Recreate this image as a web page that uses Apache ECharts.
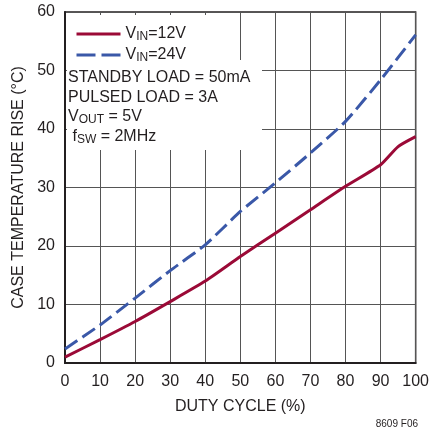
<!DOCTYPE html>
<html>
<head>
<meta charset="utf-8">
<script src="https://cdn.jsdelivr.net/npm/echarts@6/dist/echarts.min.js"></script>
<style>
  html, body { margin: 0; padding: 0; background: #fff; }
  #chart { width: 432px; height: 437px; }
</style>
</head>
<body>
<div id="chart"></div>
<script>
// duty cycle (%) on x, case temperature rise (°C) on y
var duty12 = [0, 10, 20, 30, 40, 50, 60, 70, 80, 90, 95, 100]
var rise12 = [1.0, 4.0, 7.1, 10.5, 14.0, 18.2, 22.2, 26.2, 30.2, 33.9, 37.0, 38.7]
var duty24 = [0, 10, 20, 30, 40, 50, 60, 70, 80, 90, 100]
var rise24 = [2.4, 6.5, 11.1, 15.8, 20.2, 25.9, 30.8, 35.9, 41.3, 48.4, 56.1]
var seriesNames = ['VIN=12V', 'VIN=24V']
var noteLines = [
  '{t|STANDBY LOAD = 50mA}',
  '{t|PULSED LOAD = 3A}',
  '{t|V}{s|OUT}{t| = 5V}',
  '{t| f}{s|SW}{t| = 2MHz}'
]

var font = "'Liberation Sans Narrow', 'Arial Narrow', 'Liberation Sans', sans-serif"
var red = '#9b0a37'
var blue = '#3a58a8'

function pairs(xs, ys) {
  var out = []
  for (var i = 0; i < xs.length; i++) out.push([xs[i], ys[i]])
  return out
}

var chart = echarts.init(document.getElementById('chart'))

var noteGraphics = noteLines.map(function (txt, i) {
  return {
    type: 'text',
    left: 68,
    top: 70 + i * 19.5,
    z: 5,
    style: {
      text: txt,
      rich: {
        t: { fontSize: 16, fontFamily: font, fill: '#231f20' },
        s: { fontSize: 12, fontFamily: font, fill: '#231f20', verticalAlign: 'bottom', padding: [6, 0, 0, 0] }
      }
    }
  }
})

chart.setOption({
  backgroundColor: '#fff',
  animation: false,
  grid: {
    left: 65,
    top: 12,
    right: 15,
    bottom: 74,
    show: true,
    borderColor: '#231f20',
    borderWidth: 1.5
  },
  legend: {
    orient: 'vertical',
    left: 70,
    top: 21,
    itemWidth: 44,
    itemHeight: 10,
    itemGap: 4,
    data: [
      { name: seriesNames[0], lineStyle: { width: 3 } },
      { name: seriesNames[1], lineStyle: { width: 3, type: [19, 6] } }
    ],
    itemStyle: { opacity: 0 },
    formatter: function (name) {
      var v = name.split('=')[1]
      return '{t|V}{s|IN}{t|=' + v + '}'
    },
    textStyle: {
      rich: {
        t: { fontSize: 16, fontFamily: font, color: '#231f20' },
        s: { fontSize: 12, fontFamily: font, color: '#231f20', verticalAlign: 'bottom', padding: [6, 0, 0, 0] }
      }
    }
  },
  xAxis: {
    type: 'value',
    min: 0,
    max: 100,
    interval: 10,
    name: 'DUTY CYCLE (%)',
    nameLocation: 'middle',
    nameGap: 36,
    nameTextStyle: { fontSize: 16, fontFamily: font, color: '#231f20' },
    axisLine: { lineStyle: { color: '#231f20', width: 2 } },
    axisTick: { show: false },
    axisLabel: { fontSize: 16, fontFamily: font, color: '#231f20', margin: 11 },
    splitLine: { lineStyle: { color: '#555', width: 1 } }
  },
  yAxis: {
    type: 'value',
    min: 0,
    max: 60,
    interval: 10,
    name: 'CASE TEMPERATURE RISE (°C)',
    nameLocation: 'middle',
    nameGap: 38,
    nameTextStyle: { fontSize: 16, fontFamily: font, color: '#231f20' },
    axisLine: { show: true, lineStyle: { color: '#231f20', width: 2 } },
    axisTick: { show: false },
    axisLabel: { fontSize: 16, fontFamily: font, color: '#231f20', margin: 10 },
    splitLine: { lineStyle: { color: '#555', width: 1 } }
  },
  graphic: [
    { type: 'rect', shape: { x: 67, y: 15, width: 139, height: 46 }, style: { fill: '#fff' }, z: 1 },
    { type: 'rect', shape: { x: 67, y: 60, width: 195, height: 90 }, style: { fill: '#fff' }, z: 1 },
    {
      type: 'text',
      right: 14,
      top: 419,
      style: { text: '8609 F06', fontSize: 10, fontFamily: font, fill: '#231f20' }
    }
  ].concat(noteGraphics),
  series: [
    {
      name: seriesNames[0],
      type: 'line',
      symbol: 'none',
      smooth: 0.2,
      z: 3,
      lineStyle: { color: red, width: 3 },
      itemStyle: { color: red },
      data: pairs(duty12, rise12)
    },
    {
      name: seriesNames[1],
      type: 'line',
      symbol: 'none',
      smooth: 0.2,
      z: 3,
      lineStyle: { color: blue, width: 3, type: [15, 6] },
      itemStyle: { color: blue },
      data: pairs(duty24, rise24)
    }
  ]
})
</script>
</body>
</html>
